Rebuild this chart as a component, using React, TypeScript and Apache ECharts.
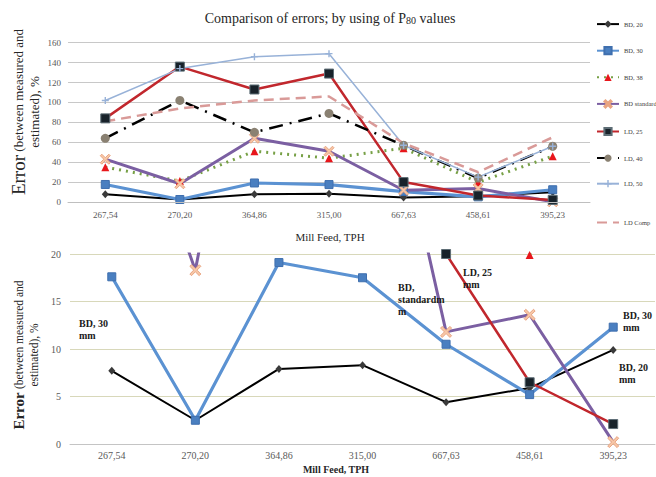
import React, { useEffect, useRef } from 'react';
import * as echarts from 'echarts';

const categories = ['267,54', '270,20', '364,86', '315,00', '667,63', '458,61', '395,23'];
const bd20 = [7.7, 2.5, 7.9, 8.3, 4.4, 5.9, 9.9];
const bd30 = [17.6, 2.5, 19.1, 17.5, 10.5, 5.2, 12.3];
const bd38 = [35, 21, 51, 44, 54, 19.9, 46];
const bdStd = [43, 18.3, 64, 51, 11.8, 13.6, 0.2];
const ld25 = [84, 136, 113, 129, 20, 6.5, 2.1];
const ld40 = [64, 102, 70, 89, 57, 24, 56];
const ld50 = [102, 134, 146, 149, 57, 25, 56];
const ldComp = [81, 94, 102, 106, 59, 30, 65];

const topTicks = { min: 0, max: 160, interval: 20 };
const bottomTicks = { min: 0, max: 20, interval: 5 };

const FONT = '"Liberation Serif", "Times New Roman", serif';

const PLUS = 'path://M4,0H6V4H10V6H6V10H4V6H0V4H4Z';
const CROSS = 'path://M0,1.5L1.5,0L5,3.5L8.5,0L10,1.5L6.5,5L10,8.5L8.5,10L5,6.5L1.5,10L0,8.5L3.5,5Z';

type Def = {
  name: string;
  data: number[];
  color: string;
  width: number;
  type: any;
  symbol: string;
  symbolSize: [number, number];
  markColor: string;
  markBorder?: string;
};

const defs: Def[] = [
  { name: 'BD, 20', data: bd20, color: '#000000', width: 2, type: 'solid', symbol: 'diamond', symbolSize: [7, 8], markColor: '#3a3a3a' },
  { name: 'BD, 30', data: bd30, color: '#5b92d2', width: 3.2, type: 'solid', symbol: 'rect', symbolSize: [8, 8], markColor: '#4a7fc0', markBorder: '#3f6fae' },
  { name: 'BD, 38', data: bd38, color: '#77a046', width: 3, type: [2, 5], symbol: 'triangle', symbolSize: [8, 8], markColor: '#e8161b' },
  { name: 'BD standard', data: bdStd, color: '#7b5fa2', width: 3, type: 'solid', symbol: CROSS, symbolSize: [10, 10], markColor: '#f7c7a7', markBorder: '#e9a582' },
  { name: 'LD, 25', data: ld25, color: '#c1272d', width: 2.5, type: 'solid', symbol: 'rect', symbolSize: [9, 9], markColor: '#18222a', markBorder: '#5d6d75' },
  { name: 'LD, 40', data: ld40, color: '#000000', width: 2.5, type: [14, 7, 2, 7], symbol: 'circle', symbolSize: [9, 9], markColor: '#8a8172' },
  { name: 'LD, 50', data: ld50, color: '#98b2d8', width: 1.5, type: 'solid', symbol: PLUS, symbolSize: [7, 7], markColor: '#98b2d8' },
  { name: 'LD Comp', data: ldComp, color: '#d99a98', width: 2.5, type: [10, 6], symbol: 'none', symbolSize: [1, 1], markColor: '#d99a98' },
];

function makeSeries(d: Def, idx: number, scale: number) {
  return {
    type: 'line',
    name: d.name,
    xAxisIndex: idx,
    yAxisIndex: idx,
    data: d.data,
    clip: true,
    symbol: d.symbol,
    symbolSize: [d.symbolSize[0] * scale, d.symbolSize[1] * scale],
    showSymbol: d.symbol !== 'none',
    lineStyle: { color: d.color, width: d.width, type: d.type },
    itemStyle: {
      color: d.markColor,
      borderColor: d.markBorder || d.markColor,
      borderWidth: d.markBorder ? 1 : 0,
    },
    emphasis: { disabled: true },
  };
}

function annotation(x: number, y: number, lines: string[]) {
  return {
    type: 'text',
    left: x,
    top: y,
    z: 120,
    style: {
      text: lines.join('\n'),
      fill: '#1a1a1a',
      font: `bold 10px ${FONT}`,
      lineHeight: 12,
    },
  };
}

export default function App() {
  const ref = useRef<HTMLDivElement>(null);
  useEffect(() => {
    const chart = echarts.init(ref.current!, null, { renderer: 'svg' });
    const axisLabel = { color: '#595959', fontFamily: FONT, fontSize: 9 };
    const legendText = { color: '#404040', fontFamily: FONT, fontSize: 6.5 };
    const option: any = {
      animation: false,
      backgroundColor: '#ffffff',
      textStyle: { fontFamily: FONT },
      grid: [
        { left: 68, right: 66, top: 42.7, height: 159.3, containLabel: false },
        { left: 70, right: 1, top: 254, height: 190, containLabel: false },
      ],
      xAxis: [
        {
          type: 'category', gridIndex: 0, data: categories, boundaryGap: true,
          axisLine: { lineStyle: { color: '#bfbfbf', width: 1 } },
          axisTick: { show: false },
          axisLabel: { ...axisLabel, margin: 8 },
          z: 150,
        },
        {
          type: 'category', gridIndex: 1, data: categories, boundaryGap: true,
          axisLine: { lineStyle: { color: '#c4c4c4', width: 1 } },
          axisTick: { show: false },
          axisLabel: { ...axisLabel, fontSize: 10, margin: 6 },
        },
      ],
      yAxis: [
        {
          type: 'value', gridIndex: 0, ...topTicks,
          axisLine: { show: false }, axisTick: { show: false },
          splitLine: { lineStyle: { color: '#c8c8c8', width: 1 } },
          axisLabel: { ...axisLabel, margin: 7 },
        },
        {
          type: 'value', gridIndex: 1, ...bottomTicks,
          axisLine: { show: false }, axisTick: { show: false },
          splitLine: { lineStyle: { color: '#d8d8ba', width: 1 } },
          axisLabel: { ...axisLabel, fontSize: 10, margin: 9 },
        },
      ],
      legend: [
        {
          orient: 'vertical', left: 596, top: 20.5, padding: 0, itemWidth: 22, itemHeight: 9, itemGap: 18.4,
          data: defs.slice(0, 7).map((d) => d.name),
          textStyle: legendText,
          selectedMode: false,
        },
        {
          orient: 'vertical', left: 596, top: 219, padding: 0, itemWidth: 22, itemHeight: 9,
          data: [{ name: 'LD Comp', itemStyle: { opacity: 0 } }],
          textStyle: legendText,
          selectedMode: false,
        },
      ],
      series: [
        ...defs.map((d) => makeSeries(d, 0, 1)),
        ...defs.map((d) => makeSeries(d, 1, d.name === 'BD standard' ? 1.1 : 1)),
      ],
      graphic: [
        {
          type: 'rect', z: 100,
          shape: { x: 60, y: 219, width: 531, height: 29 },
          style: { fill: '#ffffff' },
        },
        {
          type: 'text', x: 330, y: 18, z: 120,
          style: {
            text: 'Comparison of errors; by using of P{sub|80} values',
            fill: '#262626', font: `14px ${FONT}`, align: 'center', verticalAlign: 'middle',
            rich: { sub: { fontSize: 10, fontFamily: FONT, fill: '#262626', padding: [4, 0, 0, 0] } },
          },
        },
        {
          type: 'text', x: 330, y: 237, z: 120,
          style: { text: 'Mill Feed, TPH', fill: '#262626', font: `11px ${FONT}`, align: 'center', verticalAlign: 'middle' },
        },
        {
          type: 'text', x: 336, y: 469, z: 120,
          style: { text: 'Mill Feed, TPH', fill: '#262626', font: `bold 10px ${FONT}`, align: 'center', verticalAlign: 'middle' },
        },
        {
          type: 'text', x: 26, y: 112, rotation: Math.PI / 2, z: 120,
          style: {
            text: '{big|Error} {sm|(between measured and}\n{sm|estimated), %}',
            align: 'center', verticalAlign: 'middle', fill: '#262626',
            rich: {
              big: { fontSize: 19, fontFamily: FONT, fill: '#262626', lineHeight: 16 },
              sm: { fontSize: 13, fontFamily: FONT, fill: '#262626', lineHeight: 16 },
            },
          },
        },
        {
          type: 'text', x: 26, y: 355, rotation: Math.PI / 2, z: 120,
          style: {
            text: '{big|Error} {sm|(between measured and}\n{sm|estimated), %}',
            align: 'center', verticalAlign: 'middle', fill: '#262626',
            rich: {
              big: { fontSize: 15, fontWeight: 'bold', fontFamily: FONT, fill: '#262626', lineHeight: 15 },
              sm: { fontSize: 11.5, fontFamily: FONT, fill: '#262626', lineHeight: 15 },
            },
          },
        },
        annotation(79, 317, ['BD, 30', 'mm']),
        annotation(398, 281, ['BD,', 'standardm', 'm']),
        annotation(463, 266, ['LD, 25', 'mm']),
        annotation(623, 309, ['BD, 30', 'mm']),
        annotation(619, 361, ['BD, 20', 'mm']),
      ],
    };
    chart.setOption(option);
    return () => chart.dispose();
  }, []);
  return <div ref={ref} style={{ position: 'absolute', left: 0, top: 0, width: 656, height: 477 }} />;
}
